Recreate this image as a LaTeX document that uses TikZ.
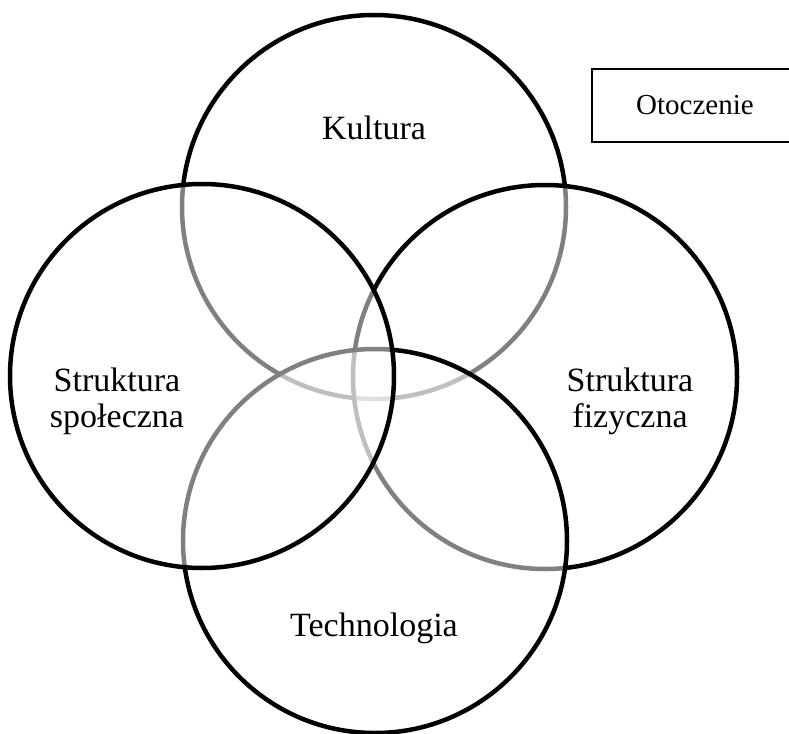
\documentclass[tikz,border=0pt]{standalone}
\usepackage{fontspec}
\setmainfont{Liberation Serif}
\usetikzlibrary{positioning}

\begin{document}
\begin{tikzpicture}[
  x=1pt,y=-1pt,
  ring/.style={circle,draw=black,line width=4.5pt,fill=white,fill opacity=0.5,minimum size=384pt,inner sep=0pt},
  lbl/.style={align=center,font=\fontsize{34}{36}\selectfont},
  envbox/.style={draw=black,line width=1.3pt,minimum width=206pt,minimum height=73pt,font=\fontsize{29}{32}\selectfont}
]
\useasboundingbox (0,0) rectangle (789,733);
\node[ring] (kul) at (374,207) {};
\node[ring] (fiz) at (545,377) {};
\node[ring] (tech) at (375,541) {};
\node[ring] (spol) at (202,376) {};
\node[lbl] (kulL) at (374,128) {Kultura};
\node[lbl] (spolL) at (117,401) {Struktura\\społeczna};
\node[lbl] (fizL) at (630,401) {Struktura\\fizyczna};
\node[lbl] (techL) at (374,628) {Technologia};
\node[envbox] (env) at (695,105.5) {Otoczenie};
\end{tikzpicture}
\end{document}
